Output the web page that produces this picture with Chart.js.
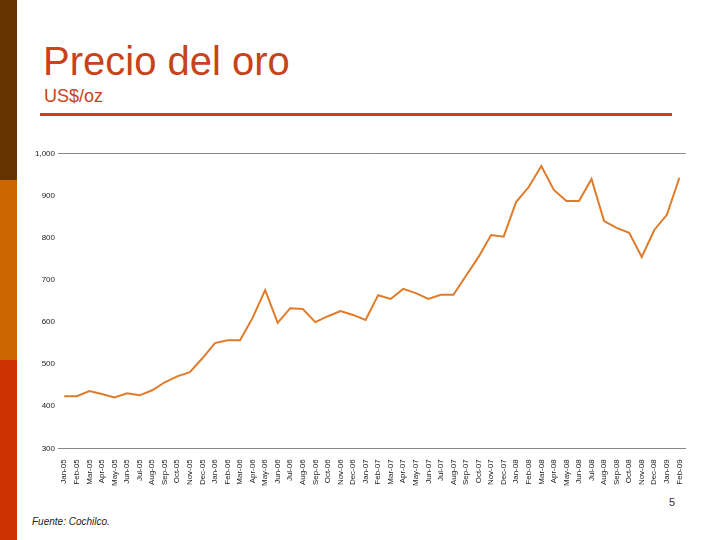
<!DOCTYPE html>
<html><head><meta charset="utf-8">
<script src="https://cdn.jsdelivr.net/npm/chart.js@4"></script>
<style>
body{margin:0;width:720px;height:540px;position:relative;background:#fff;font-family:"Liberation Sans",Arial,sans-serif;overflow:hidden}
.bar{position:absolute;left:0;width:17px}
#title{position:absolute;left:43px;top:39px;font-size:40px;color:#c8431a}
#unit{position:absolute;left:44px;top:86px;font-size:18px;color:#c8431a}
#rule{position:absolute;left:40px;top:113px;width:632px;height:3px;background:#c8431a}
#wrap{position:absolute;left:32px;top:146px;width:660px;height:343px}
#page{position:absolute;left:669px;top:496px;font-size:11px;color:#333}
#src{position:absolute;left:32px;top:516px;font-size:10px;font-style:italic;color:#222}
</style></head><body>
<div class="bar" style="top:0;height:180px;background:#663300"></div>
<div class="bar" style="top:180px;height:180px;background:#cc6600"></div>
<div class="bar" style="top:360px;height:180px;background:#cc3300"></div>
<div id="title">Precio del oro</div>
<div id="unit">US$/oz</div>
<div id="rule"></div>
<div id="wrap"><canvas id="c"></canvas></div>
<div id="page">5</div>
<div id="src">Fuente: Cochilco.</div>
<script>
const months = ['Jan-05','Feb-05','Mar-05','Apr-05','May-05','Jun-05','Jul-05','Aug-05','Sep-05','Oct-05','Nov-05','Dec-05',
  'Jan-06','Feb-06','Mar-06','Apr-06','May-06','Jun-06','Jul-06','Aug-06','Sep-06','Oct-06','Nov-06','Dec-06',
  'Jan-07','Feb-07','Mar-07','Apr-07','May-07','Jun-07','Jul-07','Aug-07','Sep-07','Oct-07','Nov-07','Dec-07',
  'Jan-08','Feb-08','Mar-08','Apr-08','May-08','Jun-08','Jul-08','Aug-08','Sep-08','Oct-08','Nov-08','Dec-08',
  'Jan-09','Feb-09'];
const gold = [424,424,436,429,421,431,426,438,457,471,481,514,
  550,557,557,610,676,598,633,631,600,614,626,617,
  605,664,655,679,669,655,665,665,710,755,807,803,
  886,921,971,914,888,888,940,840,824,812,755,819,
  855,943];

new Chart(document.getElementById('c'), {
  type: 'line',
  data: { labels: months, datasets: [{ data: gold, borderColor: '#e07b2a', borderWidth: 2, pointRadius: 0, tension: 0 }] },
  options: {
    responsive: true, maintainAspectRatio: false, animation: false,
    plugins: { legend: { display: false }, tooltip: { enabled: false } },
    scales: {
      x: {
        offset: true,
        grid: { display: false },
        border: { color: '#888' },
        ticks: { autoSkip: false, maxRotation: 90, minRotation: 90, font: { size: 8 }, color: '#222' }
      },
      y: {
        min: 300, max: 1000,
        ticks: { stepSize: 100, font: { size: 8 }, color: '#222', callback: v => v.toLocaleString('en-US') },
        grid: { color: ctx => ctx.tick && ctx.tick.value === 1000 ? '#888' : 'rgba(0,0,0,0)', drawTicks: false },
        border: { display: false }
      }
    }
  }
});
</script>
</body></html>
